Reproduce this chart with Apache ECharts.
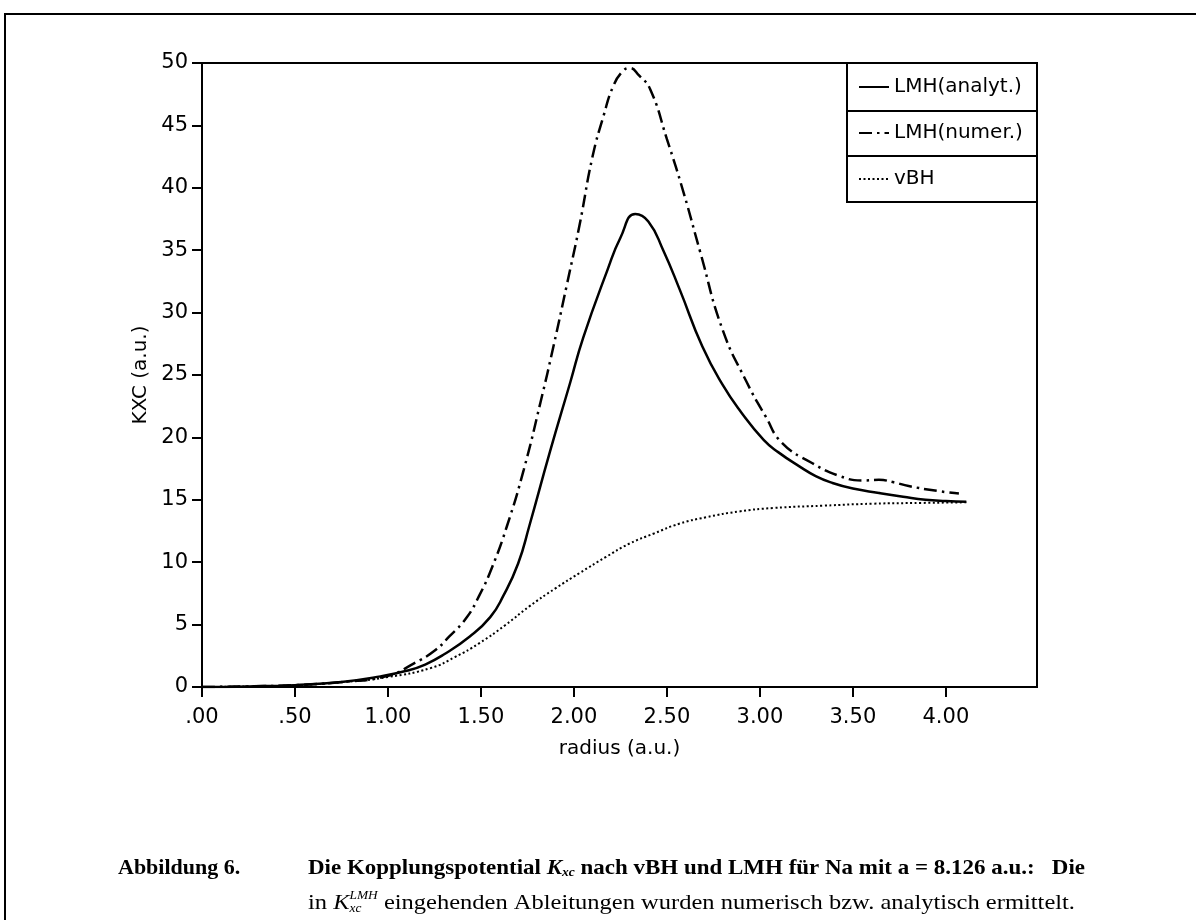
<!DOCTYPE html>
<html>
<head>
<meta charset="utf-8">
<script src="https://cdn.jsdelivr.net/npm/echarts@6/dist/echarts.min.js"></script>
<style>
  html, body { margin: 0; padding: 0; background: #fff; }
  #chart { width: 1196px; height: 920px; }
</style>
</head>
<body>
<div id="chart"></div>
<script>
// LMH (analytic derivatives) - solid
const radiusAnalyt = [0, 0.25, 0.5, 0.75, 0.96, 1.1, 1.2, 1.3, 1.44, 1.55, 1.62, 1.7, 1.76, 1.87, 1.98, 2.05, 2.18, 2.25, 2.33, 2.4, 2.48, 2.57, 2.69, 2.8, 2.9, 3.02, 3.1, 3.21, 3.3, 3.39, 3.5, 3.64, 3.77, 3.89, 4.0, 4.11];
const kxcAnalyt = [0, 0.05, 0.15, 0.4, 0.85, 1.3, 1.8, 2.6, 4.05, 5.6, 7.3, 9.9, 12.9, 18.8, 24.4, 28.0, 33.4, 36.0, 37.9, 37.3, 35.0, 31.8, 27.3, 24.2, 22.0, 19.8, 18.8, 17.7, 16.9, 16.35, 15.9, 15.55, 15.25, 15.0, 14.9, 14.85];

// LMH (numeric derivatives) - dash-dot
const radiusNumer = [0, 0.25, 0.5, 0.75, 1.0, 1.14, 1.25, 1.33, 1.42, 1.49, 1.56, 1.64, 1.73, 1.82, 1.89, 1.96, 2.03, 2.1, 2.16, 2.21, 2.26, 2.3, 2.35, 2.41, 2.5, 2.59, 2.68, 2.8, 2.93, 3.03, 3.12, 3.28, 3.43, 3.55, 3.64, 3.72, 3.8, 3.96, 4.07];
const kxcNumer = [0, 0.05, 0.15, 0.4, 0.9, 1.9, 2.9, 4.05, 5.5, 7.3, 9.6, 12.9, 17.4, 22.8, 27.3, 32.1, 37.0, 42.5, 45.8, 48.1, 49.3, 49.6, 49.0, 47.9, 43.9, 39.6, 34.8, 28.6, 24.4, 21.7, 19.55, 17.95, 16.9, 16.55, 16.6, 16.4, 16.1, 15.7, 15.5];

// vBH - dotted
const radiusVBH = [0, 0.25, 0.5, 0.75, 1.0, 1.23, 1.36, 1.49, 1.63, 1.76, 1.9, 2.03, 2.17, 2.3, 2.43, 2.57, 2.71, 2.89, 3.07, 3.34, 3.61, 3.87, 4.11];
const kxcVBH = [0, 0.04, 0.14, 0.38, 0.8, 1.52, 2.4, 3.5, 4.95, 6.46, 7.9, 9.13, 10.4, 11.5, 12.3, 13.1, 13.6, 14.07, 14.34, 14.53, 14.69, 14.75, 14.8];

const seriesNames = ['LMH(analyt.)', 'LMH(numer.)', 'vBH'];

const zip = (xs, ys) => xs.map((x, i) => [x, ys[i]]);
const sans = 'DejaVu Sans';
const serif = 'Liberation Serif';

// caption pieces, laid out with measured widths
const measureCtx = document.createElement('canvas').getContext('2d');
function textRun(segments, x0, y, targetWidth) {
  const children = [];
  let x = 0;
  segments.forEach(seg => {
    const weight = seg.bold ? 'bold' : 'normal';
    const fstyle = seg.italic ? 'italic' : 'normal';
    measureCtx.font = `${fstyle} ${weight} ${seg.size}px "${serif}"`;
    const w = measureCtx.measureText(seg.text).width;
    children.push({
      type: 'text',
      x: x,
      y: seg.dy || 0,
      style: {
        text: seg.text,
        fontFamily: serif,
        fontSize: seg.size,
        fontWeight: weight,
        fontStyle: fstyle,
        fill: '#000',
        verticalAlign: 'middle'
      }
    });
    if (!seg.noAdvance) x += w;
  });
  return {
    type: 'group',
    x: x0,
    y: y,
    scaleX: targetWidth ? targetWidth / x : 1,
    children: children
  };
}

const line1 = [
  { text: 'Die Kopplungspotential ', bold: true, size: 22 },
  { text: 'K', bold: true, italic: true, size: 22 },
  { text: 'xc', bold: true, italic: true, size: 13, dy: 5 },
  { text: ' nach vBH und LMH für Na mit a = 8.126 a.u.:   Die', bold: true, size: 22 }
];
const line2 = [
  { text: 'in ', size: 22 },
  { text: 'K', italic: true, size: 22 },
  { text: 'xc', italic: true, size: 12, dy: 6, noAdvance: true },
  { text: 'LMH', italic: true, size: 12, dy: -7 },
  { text: ' eingehenden Ableitungen wurden numerisch bzw. analytisch ermittelt.', size: 22 }
];

const chart = echarts.init(document.getElementById('chart'));

chart.setOption({
  backgroundColor: '#fff',
  animation: false,
  grid: {
    left: 202, right: 159, top: 63, bottom: 233,
    show: true, borderColor: '#000', borderWidth: 2
  },
  legend: {
    orient: 'vertical',
    left: 858,
    top: 77,
    padding: 0,
    itemWidth: 30,
    itemHeight: 14,
    itemGap: 26,
    itemStyle: { opacity: 0 },
    textStyle: { fontFamily: sans, fontSize: 20, color: '#000', lineHeight: 20 },
    data: seriesNames
  },
  xAxis: {
    type: 'value',
    min: 0,
    max: 4.49,
    interval: 0.5,
    name: 'radius (a.u.)',
    nameLocation: 'middle',
    nameGap: 52,
    nameTextStyle: { fontFamily: sans, fontSize: 20, color: '#000' },
    axisLine: { lineStyle: { color: '#000', width: 2 } },
    axisTick: { length: 10, lineStyle: { color: '#000', width: 2 } },
    axisLabel: {
      margin: 20,
      showMaxLabel: false,
      fontFamily: sans, fontSize: 21, color: '#000',
      formatter: v => v.toFixed(2).replace(/^0/, '')
    },
    splitLine: { show: false }
  },
  yAxis: {
    type: 'value',
    min: 0,
    max: 50,
    interval: 5,
    name: 'KXC (a.u.)',
    nameLocation: 'middle',
    nameGap: 44,
    nameTextStyle: { fontFamily: sans, fontSize: 20, color: '#000' },
    axisLine: { show: true, lineStyle: { color: '#000', width: 2 } },
    axisTick: { show: true, length: 10, lineStyle: { color: '#000', width: 2 } },
    axisLabel: { margin: 14, fontFamily: sans, fontSize: 21, color: '#000' },
    splitLine: { show: false }
  },
  series: [
    {
      name: seriesNames[0],
      type: 'line',
      symbol: 'none',
      smooth: 0.5,
      color: '#000',
      lineStyle: { color: '#000', width: 2.5, type: 'solid' },
      data: zip(radiusAnalyt, kxcAnalyt)
    },
    {
      name: seriesNames[1],
      type: 'line',
      symbol: 'none',
      smooth: 0.5,
      color: '#000',
      lineStyle: { color: '#000', width: 2.5, type: [13, 5, 2.5, 5] },
      data: zip(radiusNumer, kxcNumer)
    },
    {
      name: seriesNames[2],
      type: 'line',
      symbol: 'none',
      smooth: 0.5,
      color: '#000',
      lineStyle: { color: '#000', width: 2, type: [2, 2.5] },
      data: zip(radiusVBH, kxcVBH)
    }
  ],
  graphic: [
    // outer frame (only top and left edges fall inside the page)
    {
      type: 'rect',
      shape: { x: 5, y: 14, width: 1400, height: 1200 },
      style: { fill: 'none', stroke: '#000', lineWidth: 2 }
    },
    // legend cells
    {
      type: 'rect',
      shape: { x: 847, y: 63, width: 190, height: 139 },
      style: { fill: 'none', stroke: '#000', lineWidth: 2 }
    },
    {
      type: 'line',
      shape: { x1: 847, y1: 111, x2: 1037, y2: 111 },
      style: { stroke: '#000', lineWidth: 2 }
    },
    {
      type: 'line',
      shape: { x1: 847, y1: 156, x2: 1037, y2: 156 },
      style: { stroke: '#000', lineWidth: 2 }
    },
    // caption
    {
      type: 'text',
      x: 118,
      y: 868,
      style: {
        text: 'Abbildung 6.',
        fontFamily: serif,
        fontSize: 22,
        fontWeight: 'bold',
        fill: '#000',
        verticalAlign: 'middle'
      }
    },
    textRun(line1, 308, 868, 777),
    textRun(line2, 308, 903, 767)
  ]
});
</script>
</body>
</html>
